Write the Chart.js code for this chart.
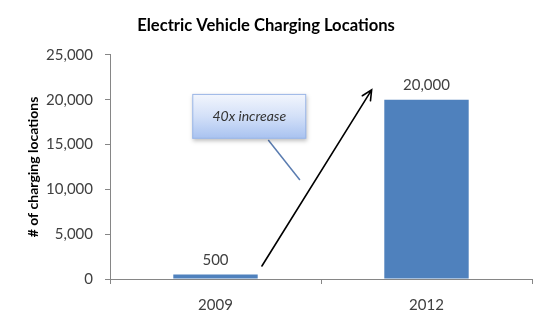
<!DOCTYPE html>
<html>
<head>
<meta charset="utf-8">
<script src="https://cdn.jsdelivr.net/npm/chart.js@4.4.1/dist/chart.umd.min.js"></script>
<style>
  html, body { margin: 0; padding: 0; background: #ffffff; }
  #wrap { width: 550px; height: 331px; position: relative; }
</style>
</head>
<body>
<div id="wrap"><canvas id="c" width="550" height="331"></canvas></div>
<script>
// ---- Data ----
const categories = ['2009', '2012'];
const locations = [500, 20000];
const yMin = 0;
const yMax = 25000;
const yStep = 5000;
const chartTitle = 'Electric Vehicle Charging Locations';
const yTitle = '# of charging locations';
const calloutText = '40x increase';

const FONT = "Lato, 'Open Sans', 'DejaVu Sans', sans-serif";
const TEXT = '#404040';
const AXIS = '#868686';

const fmt = v => v.toLocaleString('en-US');

// Annotation anchors expressed in data space (category index, value)
const arrowFrom = { x: 0.22, y: 1450 };
const arrowTo = { x: 0.74, y: 21100 };
const boxTL = { x: -0.11, y: 20650 };
const boxBR = { x: 0.43, y: 15650 };
const pointerFrom = { x: 0.25, y: 15500 };
const pointerTo = { x: 0.40, y: 11050 };

const annotate = {
  id: 'annotate',
  afterDatasetsDraw(chart) {
    const ctx = chart.ctx;
    const xs = chart.scales.x, ys = chart.scales.y;
    const P = p => [xs.getPixelForValue(p.x), ys.getPixelForValue(p.y)];

    // value labels
    const meta = chart.getDatasetMeta(0);
    ctx.save();
    ctx.font = "15px " + FONT;
    ctx.fillStyle = TEXT;
    ctx.textAlign = 'center';
    ctx.textBaseline = 'bottom';
    meta.data.forEach((bar, i) => {
      ctx.fillText(fmt(locations[i]), bar.x, bar.y - 7);
    });
    ctx.restore();

    // arrow
    const [ax1, ay1] = P(arrowFrom);
    const [ax2, ay2] = P(arrowTo);
    ctx.save();
    ctx.strokeStyle = '#000000';
    ctx.lineWidth = 1.6;
    ctx.lineCap = 'round';
    ctx.beginPath();
    ctx.moveTo(ax1, ay1);
    ctx.lineTo(ax2, ay2);
    const ang = Math.atan2(ay2 - ay1, ax2 - ax1);
    const hl = 11, ha = 0.45;
    ctx.moveTo(ax2 - hl * Math.cos(ang - ha), ay2 - hl * Math.sin(ang - ha));
    ctx.lineTo(ax2, ay2);
    ctx.lineTo(ax2 - hl * Math.cos(ang + ha), ay2 - hl * Math.sin(ang + ha));
    ctx.stroke();
    ctx.restore();

    // callout pointer
    const [px1, py1] = P(pointerFrom);
    const [px2, py2] = P(pointerTo);
    ctx.save();
    ctx.strokeStyle = '#5a7cb0';
    ctx.lineWidth = 1.5;
    ctx.beginPath();
    ctx.moveTo(px1, py1);
    ctx.lineTo(px2, py2);
    ctx.stroke();
    ctx.restore();

    // callout box
    const [bx1, by1] = P(boxTL);
    const [bx2, by2] = P(boxBR);
    ctx.save();
    ctx.shadowColor = 'rgba(0,0,0,0.25)';
    ctx.shadowBlur = 4;
    ctx.shadowOffsetX = 1;
    ctx.shadowOffsetY = 2;
    const g = ctx.createLinearGradient(0, by1, 0, by2);
    g.addColorStop(0, '#f3f6fd');
    g.addColorStop(0.5, '#d3e0f8');
    g.addColorStop(1, '#a8c2f0');
    ctx.fillStyle = g;
    ctx.fillRect(bx1, by1, bx2 - bx1, by2 - by1);
    ctx.shadowColor = 'transparent';
    ctx.strokeStyle = '#9bb6e6';
    ctx.lineWidth = 1;
    ctx.strokeRect(bx1 + 0.5, by1 + 0.5, bx2 - bx1 - 1, by2 - by1 - 1);
    ctx.font = "italic 14px " + FONT;
    ctx.fillStyle = '#333333';
    ctx.textAlign = 'center';
    ctx.textBaseline = 'middle';
    ctx.fillText(calloutText, (bx1 + bx2) / 2, (by1 + by2) / 2);
    ctx.restore();
  }
};

new Chart(document.getElementById('c'), {
  type: 'bar',
  data: {
    labels: categories,
    datasets: [{
      data: locations,
      backgroundColor: '#4f81bd',
      borderWidth: 0,
      barPercentage: 0.4,
      categoryPercentage: 1.0
    }]
  },
  options: {
    responsive: false,
    animation: false,
    devicePixelRatio: 1,
    layout: { padding: { top: 0, right: 18, bottom: 0, left: 0 } },
    plugins: {
      legend: { display: false },
      tooltip: { enabled: false },
      title: {
        display: true,
        text: chartTitle,
        color: '#000000',
        font: { family: FONT, size: 16.6, weight: 'bold', lineHeight: 1.2 },
        padding: { top: 16, bottom: 19 }
      }
    },
    scales: {
      x: {
        grid: { display: true, drawOnChartArea: false, offset: true, color: AXIS, tickLength: 5 },
        border: { display: true, color: AXIS },
        ticks: { color: TEXT, font: { family: FONT, size: 15 }, padding: 12 },
        afterFit(scale) { scale.height = 52; }
      },
      y: {
        min: yMin,
        max: yMax,
        ticks: {
          stepSize: yStep,
          color: TEXT,
          font: { family: FONT, size: 15 },
          padding: 12,
          callback: v => fmt(v)
        },
        grid: { display: true, drawOnChartArea: false, color: AXIS, tickLength: 5 },
        border: { display: true, color: AXIS },
        title: {
          display: true,
          text: yTitle,
          color: '#000000',
          font: { family: FONT, size: 14, weight: 'bold', lineHeight: 1.2 },
          padding: { top: 25, bottom: 0 }
        },
        afterFit(scale) { scale.width = 110; }
      }
    }
  },
  plugins: [annotate]
});
</script>
</body>
</html>
